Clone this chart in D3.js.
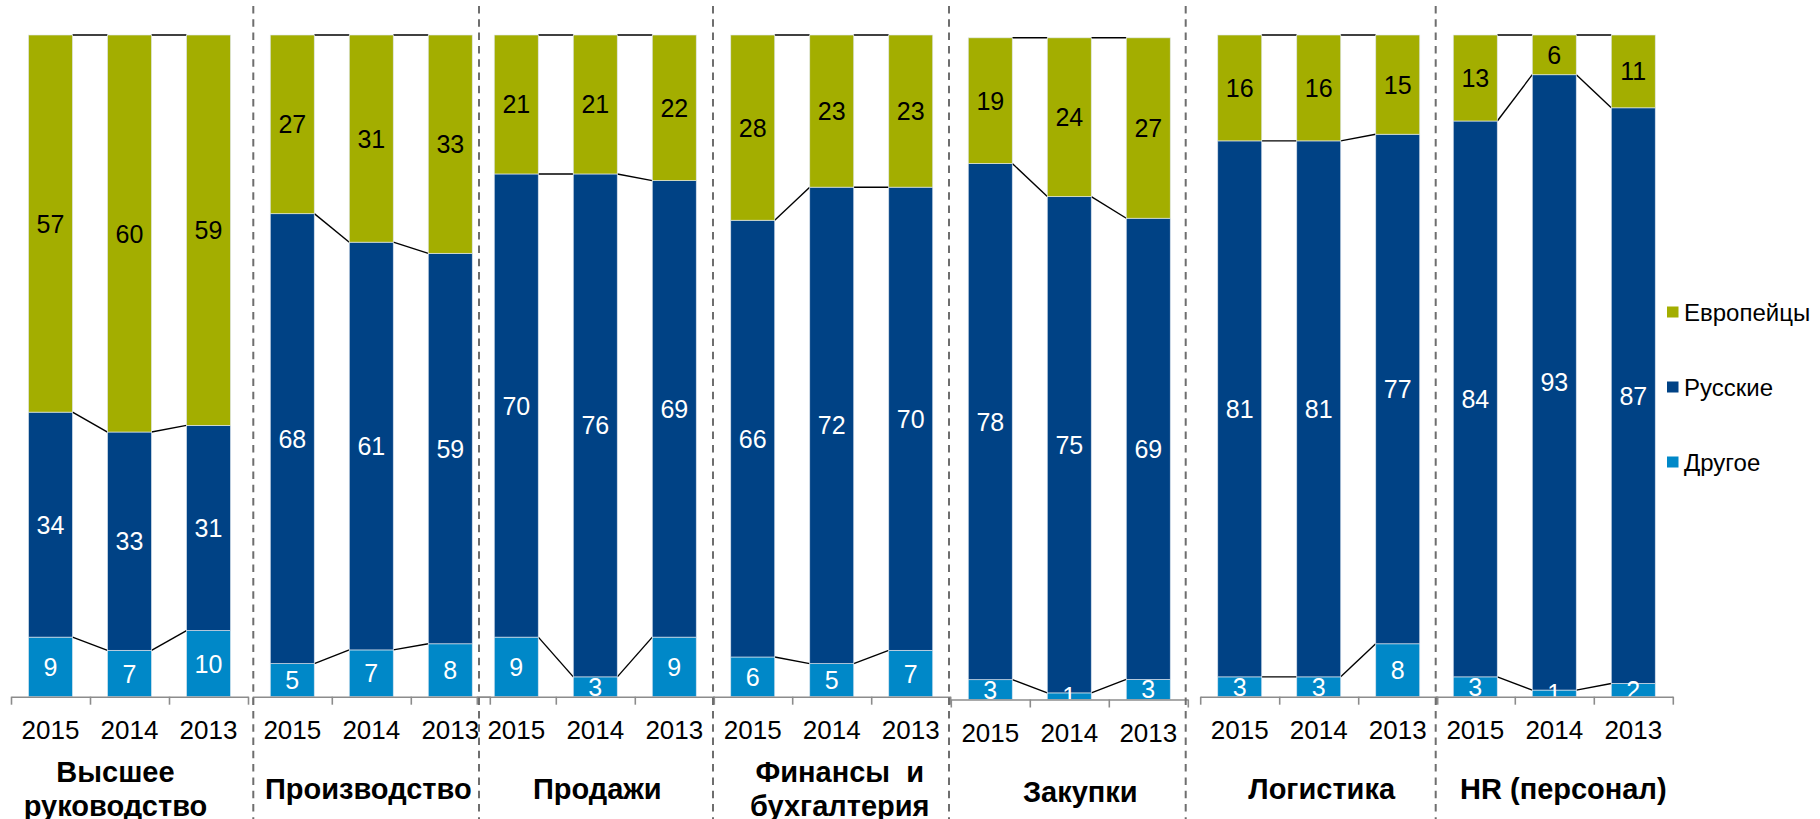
<!DOCTYPE html>
<html>
<head>
<meta charset="utf-8">
<script src="https://cdn.jsdelivr.net/npm/d3@7"></script>
<style>
  body { margin: 0; background: #fff; }
  svg { display: block; font-family: "Liberation Sans", Arial, sans-serif; }
</style>
</head>
<body>
<div id="chart"></div>
<script>
// category labels, one entry per line
const categories = [
  ['Высшее', 'руководство'],
  ['Производство'],
  ['Продажи'],
  ['Финансы  и', 'бухгалтерия'],
  ['Закупки'],
  ['Логистика'],
  ['HR (персонал)'],
];
const years = ['2015', '2014', '2013'];
const seriesNames = ['Другое', 'Русские', 'Европейцы'];

// values per category, in year order 2015, 2014, 2013
const other = [[9, 7, 10], [5, 7, 8], [9, 3, 9], [6, 5, 7], [3, 1, 3], [3, 3, 8], [3, 1, 2]];
const russians = [[34, 33, 31], [68, 61, 59], [70, 76, 69], [66, 72, 70], [78, 75, 69], [81, 81, 77], [84, 93, 87]];
const europeans = [[57, 60, 59], [27, 31, 33], [21, 21, 22], [28, 23, 23], [19, 24, 27], [16, 16, 15], [13, 6, 11]];

// layout of the panels (the source is several charts pasted side by side)
const panelX = [11, 252.8, 476.8, 713.2, 950.8, 1200.2, 1435.8];
const panelDy = [0, 0, 0, 0, 2.8, 0, 0];
const labelDx = [-14, -3, 2, 8, 11, 3, 9];
const dividers = [253.3, 479, 713, 949, 1185.7, 1435.7];

const colors = { 'Другое': '#0088c8', 'Русские': '#004285', 'Европейцы': '#a3ae00' };
const labelColors = { 'Другое': '#fff', 'Русские': '#fff', 'Европейцы': '#000' };

const width = 1820;
const height = 819;
const panelW = 237;
const plotTop = 35;
const plotBottom = 696.7;

const svg = d3.select('#chart').append('svg')
  .attr('width', width)
  .attr('height', height);

const y = d3.scaleLinear().domain([0, 1]).range([plotBottom, plotTop]);

const stack = d3.stack()
  .keys(seriesNames)
  .offset(d3.stackOffsetExpand);

categories.forEach((cat, ci) => {
  const rows = years.map((yr, i) => ({
    year: yr,
    'Другое': other[ci][i],
    'Русские': russians[ci][i],
    'Европейцы': europeans[ci][i],
  }));
  const stacked = stack(rows);

  const x = d3.scaleBand()
    .domain(years)
    .range([panelX[ci], panelX[ci] + panelW])
    .paddingInner(35 / 79)
    .paddingOuter(17.5 / 79);
  const bw = x.bandwidth();

  const g = svg.append('g')
    .attr('transform', `translate(0,${panelDy[ci]})`);

  // connector lines between bars at each series top
  stacked.forEach((s) => {
    for (let i = 0; i < years.length - 1; i += 1) {
      g.append('line')
        .attr('x1', x(years[i]) + bw)
        .attr('y1', y(s[i][1]))
        .attr('x2', x(years[i + 1]))
        .attr('y2', y(s[i + 1][1]))
        .attr('stroke', '#000')
        .attr('stroke-width', 1.4);
    }
  });

  // bar segments
  const layer = g.selectAll('g.layer')
    .data(stacked)
    .enter().append('g')
      .attr('class', 'layer')
      .attr('fill', d => colors[d.key]);

  layer.selectAll('rect')
    .data(d => d)
    .enter().append('rect')
      .attr('x', d => x(d.data.year))
      .attr('y', d => y(d[1]))
      .attr('width', bw)
      .attr('height', d => y(d[0]) - y(d[1]))
      .attr('stroke', 'rgba(225,232,240,0.8)')
      .attr('stroke-width', 0.8);

  // value labels
  stacked.forEach((s) => {
    g.selectAll(null)
      .data(s)
      .enter().append('text')
        .attr('x', d => x(d.data.year) + bw / 2)
        .attr('y', d => (y(d[0]) + y(d[1])) / 2)
        .attr('dy', '0.36em')
        .attr('text-anchor', 'middle')
        .attr('font-size', 25)
        .attr('fill', labelColors[s.key])
        .text(d => d.data[s.key]);
  });

  // axis with ticks between categories
  const xl = d3.scaleLinear().domain([0, 3]).range([panelX[ci], panelX[ci] + panelW]);
  const axis = g.append('g')
    .attr('transform', `translate(0,${plotBottom})`)
    .call(d3.axisBottom(xl).tickValues([0, 1, 2, 3]).tickFormat('').tickSize(8).tickSizeOuter(0));
  axis.selectAll('path, line')
    .attr('stroke', '#8c8c8c')
    .attr('stroke-width', 1.6);

  // year labels
  const yearAxis = g.append('g')
    .attr('transform', `translate(0,${plotBottom})`)
    .call(d3.axisBottom(x).tickSize(0).tickPadding(24));
  yearAxis.select('.domain').remove();
  yearAxis.selectAll('text')
    .attr('font-size', 26)
    .attr('font-family', '"Liberation Sans", Arial, sans-serif')
    .attr('fill', '#000');

  // category label
  const cx = panelX[ci] + panelW / 2 + labelDx[ci];
  const lines = cat.length === 1 ? [789] : [772, 806];
  cat.forEach((line, li) => {
    g.append('text')
      .attr('x', cx)
      .attr('y', lines[li])
      .attr('dy', '0.36em')
      .attr('text-anchor', 'middle')
      .attr('font-size', 29)
      .attr('font-weight', 'bold')
      .style('white-space', 'pre')
      .text(line);
  });
});

// dashed dividers between panels
svg.selectAll('line.divider')
  .data(dividers)
  .enter().append('line')
    .attr('class', 'divider')
    .attr('x1', d => d)
    .attr('x2', d => d)
    .attr('y1', 6)
    .attr('y2', height)
    .attr('stroke', '#6e6e6e')
    .attr('stroke-width', 2)
    .attr('stroke-dasharray', '7.5,5.8');

// legend (top to bottom: Европейцы, Русские, Другое)
const legend = svg.append('g')
  .attr('transform', 'translate(1667,312)');
const legendItems = legend.selectAll('g')
  .data(seriesNames.slice().reverse())
  .enter().append('g')
    .attr('transform', (d, i) => `translate(0,${i * 75})`);
legendItems.append('rect')
  .attr('x', 0)
  .attr('y', -5.5)
  .attr('width', 11.5)
  .attr('height', 11)
  .attr('fill', d => colors[d]);
legendItems.append('text')
  .attr('x', 17)
  .attr('y', 0)
  .attr('dy', '0.36em')
  .attr('font-size', 24)
  .attr('fill', '#000')
  .text(d => d);
</script>
</body>
</html>
